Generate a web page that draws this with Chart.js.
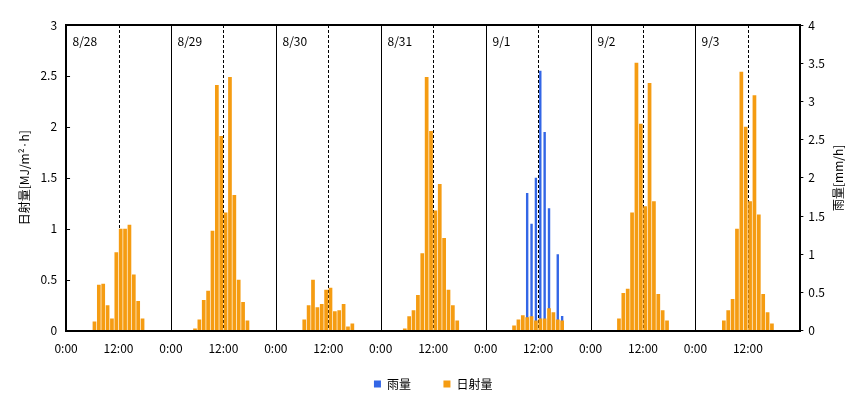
<!DOCTYPE html>
<html>
<head>
<meta charset="utf-8">
<script src="https://cdn.jsdelivr.net/npm/chart.js@4.4.1/dist/chart.umd.min.js"></script>
<style>
  html, body { margin: 0; padding: 0; background: #fff; }
  #wrap { width: 865px; height: 397px; }
</style>
</head>
<body>
<div id="wrap"><canvas id="chart"></canvas></div>
<script>
// days shown, one panel each
const days = ['8/28', '8/29', '8/30', '8/31', '9/1', '9/2', '9/3'];
const hourLabels = ['0:00', '12:00'];

// hourly solar radiation [MJ/m2·h], hours 0..23
const solar0828 = [0,0,0,0,0,0, 0.09,0.45,0.46,0.25,0.12,0.77,1.00,1.00,1.04,0.55,0.29,0.12, 0,0,0,0,0,0];
const solar0829 = [0,0,0,0,0, 0.02,0.11,0.30,0.39,0.98,2.41,1.91,1.16,2.49,1.33,0.50,0.28,0.10, 0,0,0,0,0,0];
const solar0830 = [0,0,0,0,0,0, 0.11,0.25,0.50,0.23,0.26,0.40,0.42,0.19,0.20,0.26,0.04,0.07, 0,0,0,0,0,0];
const solar0831 = [0,0,0,0,0, 0.02,0.14,0.20,0.35,0.76,2.49,1.96,1.18,1.44,0.91,0.40,0.25,0.10, 0,0,0,0,0,0];
const solar0901 = [0,0,0,0,0,0, 0.05,0.11,0.15,0.13,0.14,0.10,0.12,0.12,0.22,0.18,0.11,0.10, 0,0,0,0,0,0];
const solar0902 = [0,0,0,0,0,0, 0.12,0.37,0.41,1.16,2.63,2.03,1.22,2.43,1.27,0.36,0.20,0.10, 0,0,0,0,0,0];
const solar0903 = [0,0,0,0,0,0, 0.10,0.20,0.31,1.00,2.54,2.00,1.27,2.31,1.14,0.36,0.18,0.07, 0,0,0,0,0,0];

// hourly rainfall [mm/h]
const rainNone = [0,0,0,0,0,0,0,0,0,0,0,0,0,0,0,0,0,0,0,0,0,0,0,0];
const rain0901 = [0,0,0,0,0,0,0,0,0, 1.8,1.4,2.0,3.4,2.6,1.6,0,1.0,0.19, 0,0,0,0,0,0];

const solarDays = [solar0828, solar0829, solar0830, solar0831, solar0901, solar0902, solar0903];
const rainDays = [rainNone, rainNone, rainNone, rainNone, rain0901, rainNone, rainNone];

const rainTitle = '雨量[mm/h]';

const labels = [];
days.forEach(d => { for (let h = 0; h < 24; h++) labels.push(d + ' ' + h + ':00'); });

const FONT = "'Noto Sans CJK JP', 'Noto Sans', sans-serif";
Chart.defaults.font.family = FONT;
Chart.defaults.font.size = 12;
Chart.defaults.color = '#000';

// day separators, noon lines, day captions, frame, right title
const panels = {
    id: 'panels',
    beforeDatasetsDraw(chart) {
        const { ctx, chartArea: a, scales: { xt } } = chart;
        ctx.save();
        ctx.strokeStyle = '#000';
        ctx.lineWidth = 1;
        days.forEach((d, i) => {
            const x0 = Math.round(xt.getPixelForValue(i * 24)) + 0.5;
            if (i > 0) {
                ctx.setLineDash([]);
                ctx.beginPath(); ctx.moveTo(x0, a.top); ctx.lineTo(x0, a.bottom); ctx.stroke();
            }
            const xm = Math.round(xt.getPixelForValue(i * 24 + 12)) + 0.5;
            ctx.setLineDash([3, 2]);
            ctx.beginPath(); ctx.moveTo(xm, a.top); ctx.lineTo(xm, a.bottom); ctx.stroke();

            ctx.fillStyle = '#000';
            ctx.font = '12px ' + FONT;
            ctx.textBaseline = 'middle';
            ctx.fillText(d, x0 + 6, a.top + 16);
        });
        ctx.restore();
    },
    afterDatasetsDraw(chart) {
        const { ctx, chartArea: a, scales: { y } } = chart;
        ctx.save();
        ctx.strokeStyle = '#000';
        ctx.lineWidth = 1;
        y.ticks.forEach(t => {
            const py = Math.round(y.getPixelForValue(t.value)) + 0.5;
            ctx.beginPath(); ctx.moveTo(a.left, py); ctx.lineTo(a.left + 4, py); ctx.stroke();
        });
        ctx.lineWidth = 2;
        ctx.strokeRect(Math.round(a.left), Math.round(a.top), Math.round(a.right - a.left), Math.round(a.bottom - a.top));

        // right axis title reads bottom-to-top like the left one
        ctx.translate(a.right + 38, (a.top + a.bottom) / 2);
        ctx.rotate(-Math.PI / 2);
        ctx.fillStyle = '#000';
        ctx.font = '12px ' + FONT;
        ctx.textAlign = 'center';
        ctx.textBaseline = 'middle';
        ctx.fillText(rainTitle, 0, 0);
        ctx.restore();
    }
};

new Chart(document.getElementById('chart'), {
    type: 'bar',
    data: {
        labels: labels,
        datasets: [
            {
                label: '雨量',
                data: rainDays.flat(),
                backgroundColor: '#3366e6',
                yAxisID: 'y1',
                grouped: false,
                barPercentage: 0.55,
                categoryPercentage: 1,
                order: 1
            },
            {
                label: '日射量',
                data: solarDays.flat(),
                backgroundColor: '#f59c12',
                yAxisID: 'y',
                grouped: false,
                barPercentage: 0.85,
                categoryPercentage: 1,
                order: 0
            }
        ]
    },
    options: {
        responsive: true,
        maintainAspectRatio: false,
        animation: false,
        layout: { padding: { top: 25, left: 10, right: 35, bottom: -3 } },
        plugins: {
            tooltip: { enabled: false },
            legend: {
                position: 'bottom',
                fullSize: false,
                labels: {
                    boxWidth: 7,
                    boxHeight: 7,
                    padding: 11,
                    sort: (a, b) => a.datasetIndex - b.datasetIndex,
                    generateLabels: chart => {
                        const items = Chart.defaults.plugins.legend.labels.generateLabels(chart);
                        items.forEach(it => { it.lineWidth = 0; if (it.datasetIndex === 0) it.text = it.text + '        '; });
                        return items;
                    }
                }
            }
        },
        scales: {
            x: { display: false, offset: true },
            xt: {
                type: 'linear',
                position: 'bottom',
                offset: false,
                min: 0,
                max: 168,
                border: { display: false },
                grid: { display: false, drawTicks: false, offset: false },
                ticks: {
                    stepSize: 12,
                    padding: 11,
                    maxRotation: 0,
                    autoSkip: false,
                    callback: v => (v >= 168 ? null : hourLabels[(v % 24) / 12])
                }
            },
            y: {
                position: 'left',
                min: 0,
                max: 3,
                border: { display: false },
                grid: { display: false, drawTicks: false },
                ticks: { stepSize: 0.5, padding: 9, callback: v => String(v) },
                title: { display: true, text: '日射量[MJ/m²·h]', padding: { top: 7, bottom: 0 } }
            },
            y1: {
                position: 'right',
                min: 0,
                max: 4,
                border: { display: false },
                grid: { drawOnChartArea: false, drawTicks: true, tickLength: 3, color: '#000' },
                ticks: { stepSize: 0.5, padding: 5, callback: v => String(v) }
            }
        }
    },
    plugins: [panels]
});
</script>
</body>
</html>
